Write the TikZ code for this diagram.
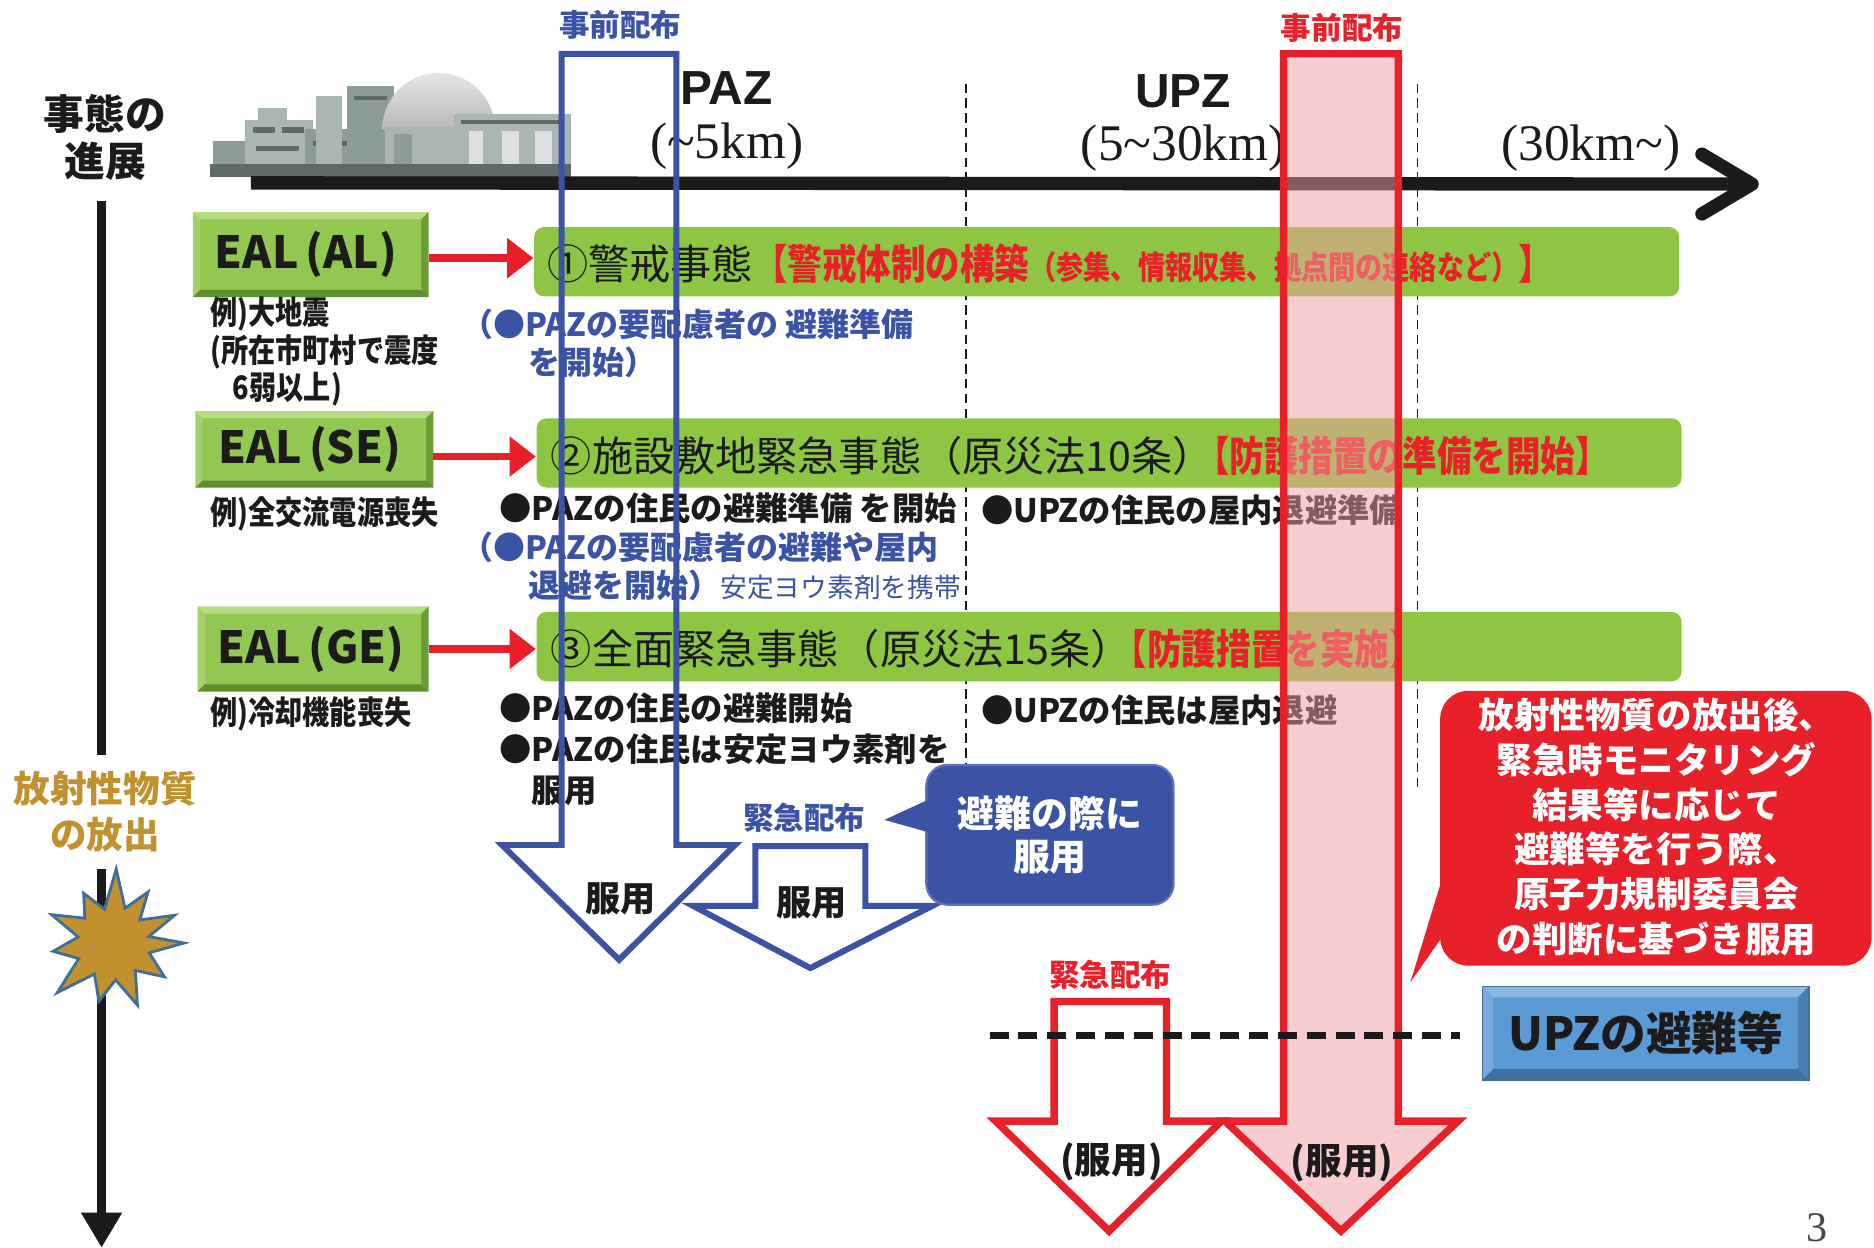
\documentclass[tikz,border=0pt]{standalone}
\usepackage{fontspec}
\usetikzlibrary{arrows.meta,calc}
\setmainfont{Liberation Sans}
\newfontfamily\jp{Noto Sans CJK JP}
\newfontfamily\jpn{Noto Sans CJK JP}[FakeStretch=0.84]
\newfontfamily\lsans{Liberation Sans}
\newfontfamily\lserif{Liberation Serif}
\newcommand\U{0.011952cm}
\newcommand\fsz[2]{\fontsize{#1pt}{#2pt}\selectfont}

\definecolor{pzblue}{HTML}{3A53A4}
\definecolor{pzred}{HTML}{E8202A}
\definecolor{pzpink}{HTML}{F39DA1}
\definecolor{bargreen}{HTML}{8EC543}
\definecolor{ealface}{HTML}{92C752}
\definecolor{ealtop}{HTML}{B5DB83}
\definecolor{ealleft}{HTML}{A3D16C}
\definecolor{ealbottom}{HTML}{5F8E2C}
\definecolor{ealright}{HTML}{6B9C35}
\definecolor{upzface}{HTML}{5B9BD5}
\definecolor{upztop}{HTML}{8DB7E2}
\definecolor{upzleft}{HTML}{79A8DC}
\definecolor{upzbottom}{HTML}{41709F}
\definecolor{upzright}{HTML}{4A7DB3}
\definecolor{gold}{HTML}{C0912E}
\definecolor{starline}{HTML}{3F6E9A}
\definecolor{ink}{HTML}{1C1A1B}
\definecolor{plantlight}{HTML}{AAB6B4}
\definecolor{plantmid}{HTML}{8D9B99}
\definecolor{plantdark}{HTML}{5E6968}

% bevelled frame around a rectangular node: name, bevel, top, left, bottom, right
\newcommand\bevelframe[6]{%
  \fill[#3] (#1.north west) -- (#1.north east) -- ([shift={(-#2,#2)}]#1.north east) -- ([shift={(#2,#2)}]#1.north west) -- cycle;
  \fill[#4] (#1.north west) -- ([shift={(#2,#2)}]#1.north west) -- ([shift={(#2,-#2)}]#1.south west) -- (#1.south west) -- cycle;
  \fill[#5] (#1.south west) -- ([shift={(#2,-#2)}]#1.south west) -- ([shift={(-#2,-#2)}]#1.south east) -- (#1.south east) -- cycle;
  \fill[#6] (#1.north east) -- ([shift={(-#2,#2)}]#1.north east) -- ([shift={(-#2,-#2)}]#1.south east) -- (#1.south east) -- cycle;
}

\tikzset{
  lbl/.style={inner sep=0pt, outer sep=0pt},
  bar/.style={fill=bargreen, rounded corners=2.8pt, minimum height=58*\U, inner sep=0pt},
  ealbox/.style={fill=ealface, inner sep=0pt, minimum width=196*\U, minimum height=68*\U},
  ealtext/.style={lbl, font=\jp\bfseries\fsz{12.6}{14}, text=ink},
  redarrow/.style={draw=pzred, line width=2.1pt, -{Triangle[length=7.5pt,width=11pt]}},
  blueout/.style={draw=pzblue, line width=1.7pt, line join=miter},
  redout/.style={draw=pzred, line width=2.1pt, line join=miter},
  example/.style={lbl, anchor=west, align=left, font=\jpn\bfseries\fsz{9.2}{9.4}, text=ink},
  bullet/.style={lbl, anchor=west, align=left, font=\jp\bfseries\fsz{9.2}{11}, text=ink},
  bluenote/.style={lbl, anchor=west, align=left, font=\jp\bfseries\fsz{9.1}{10.9}, text=pzblue},
  tag/.style={lbl, font=\jp\bfseries\fsz{8.7}{9}},
  dose/.style={lbl, font=\jp\bfseries\fsz{10}{10}, text=ink},
  divider/.style={draw=ink, line width=0.5pt, dash pattern=on 2.7pt off 1.5pt},
}

\begin{document}
\begin{tikzpicture}[x=\U, y=-\U]
\useasboundingbox (0,0) rectangle (1568,1044);
\fill[white] (0,0) rectangle (1568,1044);

% ---- power plant silhouette ----
\fill[plantmid] (178,118) rectangle (222,141);
\fill[plantlight] (205,100) rectangle (262,141);
\fill[plantdark] (212,106) rectangle (230,111);
\fill[plantdark] (236,106) rectangle (254,111);
\fill[plantdark] (214,122) rectangle (250,126);
\fill[plantlight] (216,90) rectangle (240,100);
\fill[plantmid] (255,108) rectangle (305,141);
\fill[plantdark] (262,118) rectangle (298,122);
\fill[plantlight] (264,80) rectangle (286,141);
\fill[plantmid] (290,72) rectangle (330,141);
\fill[plantdark] (296,80) rectangle (324,84);
\shade[top color=gray!20, bottom color=gray!55] (320,108) arc (180:360:47) -- cycle;
\fill[plantlight] (322,106) rectangle (414,141);
\fill[plantmid] (330,112) rectangle (345,141);
\fill[plantlight] (380,95) rectangle (478,141);
\fill[plantdark] (386,100) rectangle (472,104);
\fill[gray!25] (392,110) rectangle (404,141);
\fill[gray!25] (420,110) rectangle (434,141);
\fill[gray!25] (448,110) rectangle (462,141);
\fill[plantdark] (176,137) rectangle (478,148);

% ---- distance axis ----
\coordinate (axL) at (210,153);
\coordinate (axR) at (1466,154);
\draw[ink, line width=3.8pt] (axL) -- ([xshift=-3pt]axR);
\draw[ink, line width=3.8pt, line cap=round, line join=round]
  ($(axR)+(-42,-25)$) -- (axR) -- ($(axR)+(-42,25)$);

% zone dividers
\coordinate (dv1a) at (808,70);  \coordinate (dv1b) at (808,660);
\coordinate (dv2a) at (1186,70); \coordinate (dv2b) at (1186,660);
\draw[divider] (dv1a) -- (dv1b);
\draw[divider] (dv2a) -- (dv2b);

% zone labels
\node[lbl, font=\lsans\bfseries\fsz{13.6}{14}, text=ink] (paz) at (608,74) {PAZ};
\node[lbl, font=\lserif\fsz{14.6}{15}, text=ink] (pazr) at (608,122) {(\textasciitilde5km)};
\node[lbl, font=\lsans\bfseries\fsz{13.6}{14}, text=ink] (upzl) at (990,76) {UPZ};
\node[lbl, font=\lserif\fsz{14.6}{15}, text=ink] (upzr) at (990,124) {(5\textasciitilde30km)};
\node[lbl, font=\lserif\fsz{14.6}{15}, text=ink] (outr) at (1331,124) {(30km\textasciitilde)};

% ---- emergency action levels ----
\node[bar, minimum width=958*\U] (bar1) at (926,219) {};
\node[bar, minimum width=958*\U] (bar2) at (928,379) {};
\node[bar, minimum width=958*\U] (bar3) at (928,541) {};

\node[lbl, anchor=west] (bt1) at (458,221)
  {{\jp\fsz{11.7}{12}\color{ink}①警戒事態}{\jpn\bfseries\color{pzred}\fsz{11.7}{12}【警戒体制の構築{\fsz{9.2}{9}（参集、情報収集、拠点間の連絡など）}】}};
\node[lbl, anchor=west] (bt2) at (461,381)
  {{\jp\fsz{11.7}{12}\color{ink}②施設敷地緊急事態（原災法10条）}{\jpn\bfseries\color{pzred}\fsz{11.7}{12}\hspace{-0.45em}【防護措置の準備を開始】}};
\node[lbl, anchor=west] (bt3) at (461,543)
  {{\jp\fsz{11.7}{12}\color{ink}③全面緊急事態（原災法15条）}{\jpn\bfseries\color{pzred}\fsz{11.7}{12}\hspace{-0.45em}【防護措置を実施】}};

\node[ealbox, minimum height=70*\U] (eal1) at (260,213) {};
\node[ealbox, minimum width=198*\U, minimum height=63*\U] (eal2) at (263,376) {};
\node[ealbox, minimum width=192*\U, minimum height=70*\U] (eal3) at (262,543) {};
\bevelframe{eal1}{6}{ealtop}{ealleft}{ealbottom}{ealright}
\bevelframe{eal2}{6}{ealtop}{ealleft}{ealbottom}{ealright}
\bevelframe{eal3}{6}{ealtop}{ealleft}{ealbottom}{ealright}
\node[ealtext] (eal1t) at ([xshift=-4*\U]eal1) {EAL\,(AL)};
\node[ealtext] (eal2t) at ([xshift=-4*\U]eal2) {EAL\,(SE)};
\node[ealtext] (eal3t) at ([xshift=-2*\U]eal3) {EAL\,(GE)};

\draw[redarrow] ([yshift=-3*\U]eal1.east) -- ([yshift=-3*\U]eal1.east -| bar1.west);
\draw[redarrow] ([yshift=-6*\U]eal2.east) -- ([yshift=-6*\U]eal2.east -| bar2.west);
\draw[redarrow] (eal3.east) -- (eal3.east -| bar3.west);

% examples under each level
\node[example] (ex1) at (176,294) {例)大地震\\(所在市町村で震度\\\hspace{0.7em}6弱以上)};
\node[example] (ex2) at (176,430) {例)全交流電源喪失};
\node[example] (ex3) at (176,597) {例)冷却機能喪失};

% actions per level
\node[bluenote] (bl1) at (386,287) {（●PAZの要配慮者の 避難準備\\\hspace{2.1em}を開始）};
\node[bullet] (bk2) at (418,425) {●PAZの住民の避難準備 を開始};
\node[bullet] (bk2u) at (821,427) {●UPZの住民の屋内退避準備};
\node[bluenote] (bl2) at (386,474) {（●PAZの要配慮者の避難や屋内\\\hspace{2.1em}退避を開始）{\mdseries\fsz{7.6}{8}安定ヨウ素剤を携帯}};
\node[bullet, font=\jp\bfseries\fsz{9.2}{11.6}] (bk3) at (418,627) {●PAZの住民の避難開始\\●PAZの住民は安定ヨウ素剤を\\\hspace{1em}服用};
\node[bullet] (bk3u) at (821,594) {●UPZの住民は屋内退避};

% ---- UPZ pre-distribution (pink arrow) ----
\filldraw[redout, fill=pzpink, fill opacity=0.5]
  (1074,45) -- (1170,45) -- (1170,938) -- (1220,938) -- (1122,1030) -- (1025,938) -- (1074,938) -- cycle;
\node[tag, text=pzred] (pre2) at (1123,23) {事前配布};
\node[dose, font=\jp\bfseries\fsz{10.4}{11}] (use4) at (1123,973) {(服用)};

% ---- PAZ pre-distribution (blue outline arrow) ----
\draw[blueout] (470,45) -- (566,45) -- (566,707) -- (615,707) -- (518,803) -- (420,707) -- (470,707) -- cycle;
\node[tag, text=pzblue] (pre1) at (519,21) {事前配布};
\node[dose] (use1) at (519,752) {服用};

% ---- PAZ emergency distribution ----
\filldraw[blueout, fill=white] (632,708) -- (724,708) -- (724,758) -- (780,758) -- (678,810) -- (580,758) -- (632,758) -- cycle;
\node[tag, text=pzblue] (emg1) at (673,684) {緊急配布};
\node[dose] (use2) at (679,755) {服用};

% blue callout
\node[fill=pzblue, draw=pzblue!80!white, line width=0.6pt, rounded corners=6pt, minimum width=207*\U, minimum height=117*\U] (cb) at (878.5,698.5) {};
\fill[pzblue] (790,663) -- (740,686) -- (790,700) -- cycle;
\node[lbl, align=center, text=white, font=\jp\bfseries\fsz{10.5}{12.3}] (cbt) at (cb) {避難の際に\\服用};

% ---- UPZ emergency distribution ----
\filldraw[redout, fill=white] (882,838) -- (976,838) -- (976,938) -- (1022,938) -- (928,1030) -- (833,938) -- (882,938) -- cycle;
\node[tag, text=pzred] (emg2) at (929,816) {緊急配布};
\node[dose, font=\jp\bfseries\fsz{10.4}{11}] (use3) at (930,972) {(服用)};

% UPZ evacuation box
\node[fill=upzface, inner sep=0pt, minimum width=272*\U, minimum height=77*\U] (upz) at (1377,864.5) {};
\bevelframe{upz}{9}{upztop}{upzleft}{upzbottom}{upzright}
\draw[upzbottom, line width=0.5pt] (upz.north west) rectangle (upz.south east);
\node[lbl, font=\jp\bfseries\fsz{13}{14}, text=ink] (upzt) at (upz) {UPZの避難等};

% dashed threshold line
\coordinate (thA) at (828,866);
\coordinate (thB) at (1222,866);
\draw[ink, line width=2pt, dash pattern=on 5.4pt off 2.8pt] (thA) -- (thB);

% red callout
\node[fill=pzred, rounded corners=8pt, minimum width=361*\U, minimum height=230*\U] (rc) at (1385.5,693) {};
\fill[pzred] (1215,708) -- (1180,822) -- (1215,772) -- cycle;
\node[lbl, align=center, text=white, font=\jp\bfseries\fsz{10.1}{12.7}] (rct) at (1386,692)
  {放射性物質の放出後、\\緊急時モニタリング\\結果等に応じて\\避難等を行う際、\\原子力規制委員会\\の判断に基づき服用};

% ---- progression of events (left) ----
\node[lbl, align=center, font=\jp\bfseries\fsz{11.6}{13.6}, text=ink] (prog) at (88,115) {事態の\\進展};
\coordinate (tA) at (85,168);
\coordinate (tB) at (85,632);
\coordinate (tC) at (85,727);
\coordinate (tD) at (85,1044);
\draw[ink, line width=2.7pt] (tA) -- (tB);
\draw[ink, line width=2.7pt, -{Triangle[length=10pt,width=11pt]}] (tC) -- (tD);
\node[lbl, align=center, font=\jp\bfseries\fsz{10.4}{12.9}, text=gold] (rel) at (88,679) {放射性物質\\の放出};
\coordinate (st) at (94,789);
\filldraw[fill=gold, draw=starline, line width=0.8pt]
  ($(st)+(0:60)$)
  \foreach \a/\r in {15/32,33/52,50/30,68/56,85/31,103/50,120/30,138/62,155/31,172/50,190/29,205/56,222/31,240/48,257/29,273/62,290/31,305/52,320/30,336/57,350/31}
    { -- ($(st)+(\a:\r)$) } -- cycle;

% page number
\node[lbl, font=\lserif\fsz{12}{12}, text=ink!80] (pg) at (1520,1027) {3};
\end{tikzpicture}
\end{document}
